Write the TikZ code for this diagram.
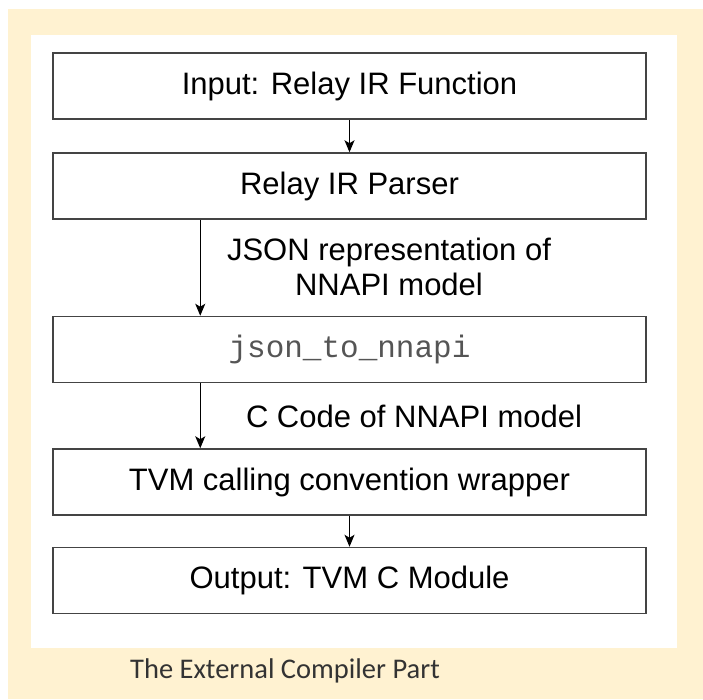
\documentclass[tikz,border=0pt]{standalone}
\usepackage{fontspec}
\setmainfont{Liberation Sans}
\newfontfamily\monof{Liberation Mono}
\newfontfamily\capf{Carlito}
\usetikzlibrary{arrows.meta}
\definecolor{beige}{HTML}{FFF2D1}
\definecolor{boxline}{HTML}{444444}
\definecolor{monocol}{HTML}{555555}
\definecolor{capcol}{HTML}{333333}
\begin{document}
\begin{tikzpicture}[x=1pt,y=-1pt,
  stepbox/.style={draw=boxline,line width=1.5pt,fill=white,minimum width=593pt,minimum height=66pt,inner sep=0pt,font=\fontsize{31}{36}\selectfont},
  arr/.style={-{Stealth[length=12pt,width=10pt,inset=3pt]},line width=1.1pt,black},
  lbl/.style={font=\fontsize{31}{35}\selectfont,align=center,inner sep=0pt}]
\useasboundingbox (0,0) rectangle (703,699);
\fill[beige] (8,9) rectangle (703,699);
\fill[white] (31,35) rectangle (677,648);
\node[stepbox] (b1) at (349.5,86) {Input: Relay IR Function};
\node[stepbox] (b2) at (349.5,186) {Relay IR Parser};
\node[stepbox,font=\monof\fontsize{31}{36}\selectfont,text=monocol] (b3) at (349.5,349.5) {json\_to\_nnapi};
\node[stepbox] (b4) at (349.5,482) {TVM calling convention wrapper};
\node[stepbox] (b5) at (349.5,580.5) {Output: TVM C Module};
\draw[arr] (b1) -- (b2);
\draw[arr] ([xshift=148pt]b2.south west) -- ([xshift=148pt]b3.north west);
\draw[arr] ([xshift=148pt]b3.south west) -- ([xshift=148pt]b4.north west);
\draw[arr] (b4) -- (b5);
\node[lbl] (l1) at (389,267) {JSON representation of\\NNAPI model};
\node[lbl] (l2) at (414,416) {C Code of NNAPI model};
\node[font=\capf\fontsize{28.5}{32}\selectfont,text=capcol,inner sep=0pt] (cap) at (285,671) {The External Compiler Part};
\end{tikzpicture}
\end{document}
